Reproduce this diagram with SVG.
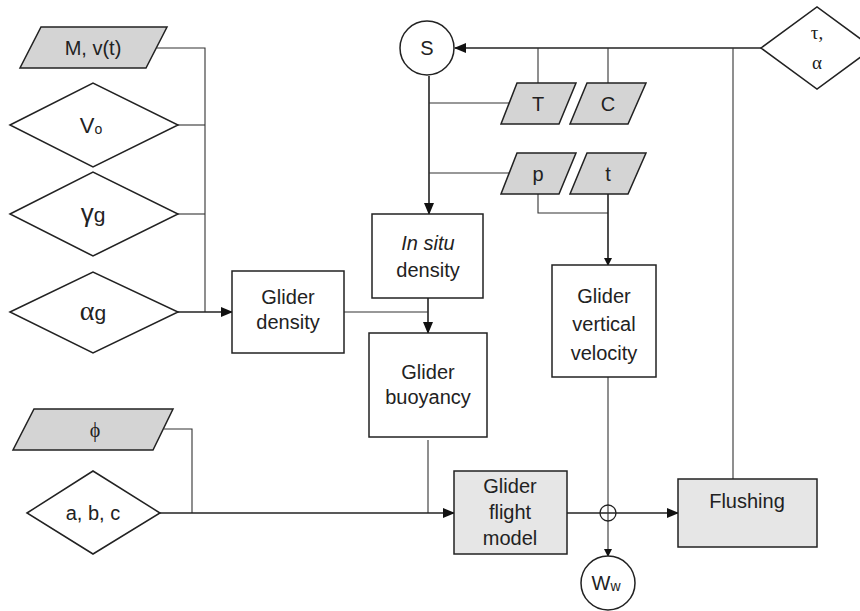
<svg xmlns="http://www.w3.org/2000/svg" width="860" height="611" viewBox="0 0 860 611">
<style>
.sh{stroke:#222;stroke-width:1.5;fill:#fff}
.in{stroke:#222;stroke-width:1.5;fill:#d4d4d4}
.gb{stroke:#222;stroke-width:1.5;fill:#e6e6e6}
.t{font-family:"Liberation Sans",Arial,sans-serif;font-size:20px;fill:#222;text-anchor:middle}
.s{font-family:"Liberation Serif","Times New Roman",serif;fill:#222;text-anchor:middle}
.c{stroke:#333;stroke-width:1.1;fill:none}
.m{stroke:#222;stroke-width:1.6;fill:none}
</style>
<defs>
<marker id="a" markerWidth="12" markerHeight="10" refX="11" refY="5" orient="auto" markerUnits="userSpaceOnUse"><path d="M0,0 L12,5 L0,10 Z" fill="#111"/></marker>
<marker id="b" markerWidth="8" markerHeight="10" refX="7" refY="4" orient="auto" markerUnits="userSpaceOnUse"><path d="M0,0 L8,4 L0,8 Z" fill="#111"/></marker>
</defs>
<g id="connectors">
<polyline class="c" points="157,48 205,48 205,312"/>
<line class="c" x1="178" y1="125" x2="205" y2="125"/>
<line class="c" x1="178" y1="214" x2="205" y2="214"/>
<line class="m" x1="178" y1="312" x2="232" y2="312" marker-end="url(#a)"/>
<line class="m" x1="761" y1="48" x2="455" y2="48" marker-end="url(#a)"/>
<line class="c" x1="538" y1="48" x2="538" y2="83"/>
<line class="c" x1="608" y1="48" x2="608" y2="83"/>
<line class="c" x1="733" y1="48" x2="733" y2="479"/>
<line class="m" x1="429" y1="76" x2="429" y2="214" marker-end="url(#a)"/>
<line class="c" x1="429" y1="103" x2="509" y2="103"/>
<line class="c" x1="429" y1="173" x2="509" y2="173"/>
<polyline class="c" points="538,194 538,213 608,213"/>
<line class="m" x1="608" y1="194" x2="608" y2="265" marker-end="url(#b)"/>
<line class="m" x1="428" y1="298" x2="428" y2="333" marker-end="url(#a)"/>
<line class="c" x1="344" y1="312" x2="428" y2="312"/>
<polyline class="c" points="164,429 192,429 192,513"/>
<line class="c" x1="428" y1="440" x2="428" y2="513"/>
<line class="m" x1="160" y1="513" x2="454" y2="513" marker-end="url(#a)"/>
<line class="m" x1="567" y1="513" x2="678" y2="513" marker-end="url(#a)"/>
<line class="c" x1="608" y1="377" x2="608" y2="556" marker-end="url(#b)"/>
<circle cx="608" cy="513" r="8" fill="none" stroke="#222" stroke-width="1.3"/>
</g>
<g id="Mv">
<polygon class="in" points="41,27 167,27 146,68 20,68"/>
<text class="t" x="93" y="55">M, v(t)</text>
</g>
<g id="Vo">
<polygon class="sh" points="10,125 93,83 178,125 93,167"/>
<text class="t" x="91" y="133" style="font-size:22px">V<tspan style="font-size:14px" dy="1">o</tspan></text>
</g>
<g id="gamma">
<polygon class="sh" points="10,214 93,172 178,214 93,256"/>
<text class="t" x="93" y="222" style="font-size:26px">γ<tspan style="font-size:21px">g</tspan></text>
</g>
<g id="alpha">
<polygon class="sh" points="10,312 93,272 178,312 93,353"/>
<text class="s" x="93" y="320" style="font-size:28px">α<tspan style="font-family:'Liberation Sans',Arial,sans-serif;font-size:21px">g</tspan></text>
</g>
<g id="gliderDensity">
<rect class="sh" x="232" y="271" width="112" height="82"/>
<text class="t" x="288" y="304">Glider</text>
<text class="t" x="288" y="329">density</text>
</g>
<g id="S">
<circle class="sh" cx="427" cy="48" r="27"/>
<text class="t" x="427" y="55">S</text>
</g>
<g id="T">
<polygon class="in" points="517,83 576,83 559,124 501,124"/>
<text class="t" x="538" y="111">T</text>
</g>
<g id="C">
<polygon class="in" points="587,83 646,83 628,124 570,124"/>
<text class="t" x="608" y="111">C</text>
</g>
<g id="p">
<polygon class="in" points="517,153 576,153 559,194 501,194"/>
<text class="t" x="538" y="181">p</text>
</g>
<g id="tt">
<polygon class="in" points="587,153 646,153 628,194 570,194"/>
<text class="t" x="608" y="181">t</text>
</g>
<g id="taualpha">
<polygon class="sh" points="761,48 817,7 873,48 817,89"/>
<text class="s" x="817" y="39" style="font-size:19px">τ,</text>
<text class="s" x="817" y="69" style="font-size:19px">α</text>
</g>
<g id="inSitu">
<rect class="sh" x="372" y="214" width="111" height="84"/>
<text class="t" x="428" y="250" font-style="italic">In situ</text>
<text class="t" x="428" y="277">density</text>
</g>
<g id="buoyancy">
<rect class="sh" x="369" y="333" width="118" height="104"/>
<text class="t" x="428" y="379">Glider</text>
<text class="t" x="428" y="404">buoyancy</text>
</g>
<g id="vertVel">
<rect class="sh" x="552" y="265" width="104" height="112"/>
<text class="t" x="604" y="303">Glider</text>
<text class="t" x="604" y="331">vertical</text>
<text class="t" x="604" y="360">velocity</text>
</g>
<g id="phi">
<polygon class="in" points="34,409 173,409 153,450 13,450"/>
<text class="s" x="95" y="437" style="font-size:20px">ϕ</text>
</g>
<g id="abc">
<polygon class="sh" points="27,513 93,471 160,513 93,554"/>
<text class="t" x="93" y="520">a, b, c</text>
</g>
<g id="flight">
<rect class="gb" x="454" y="471" width="113" height="83"/>
<text class="t" x="510" y="493">Glider</text>
<text class="t" x="510" y="519">flight</text>
<text class="t" x="510" y="545">model</text>
</g>
<g id="flushing">
<rect class="gb" x="678" y="479" width="139" height="68"/>
<text class="t" x="747" y="508">Flushing</text>
</g>
<g id="Ww">
<circle class="sh" cx="608" cy="583" r="27"/>
<text class="t" x="606" y="590">W<tspan style="font-size:14px" dy="1">w</tspan></text>
</g>
</svg>
